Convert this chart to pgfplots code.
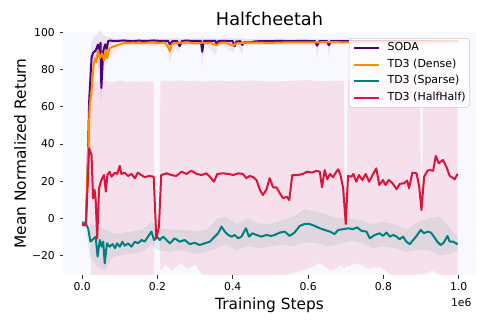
\documentclass[border=0pt]{standalone}
\usepackage{fontspec}
\setmainfont{DejaVu Sans}
\usepackage{pgfplots}
\usepackage{pgfplotstable}
\pgfplotsset{compat=1.18}
\usepgfplotslibrary{fillbetween}

\definecolor{bgc}{RGB}{248,248,255}
\definecolor{soda}{RGB}{75,0,130}
\definecolor{dense}{RGB}{255,140,0}
\definecolor{sparse}{RGB}{0,128,128}
\definecolor{half}{RGB}{220,20,60}

% x in units of 1e6 training steps
\pgfplotstableread{
x y
0 -3
0.01 -3
0.014 20
0.0186 62.6
0.025 86.2
0.029 88.9
0.036 90.2
0.042 93.4
0.045 88.9
0.049 94.4
0.051 70.1
0.056 89.8
0.061 93.5
0.065 90.8
0.069 95.2
0.073 95.5
0.09 95.3
0.11 95.6
0.13 95.2
0.15 95.5
0.17 95.3
0.19 95.6
0.21 95.3
0.228 95.4
0.233 93.5
0.24 95.2
0.252 95.3
0.259 92.5
0.265 95.4
0.28 95.5
0.30 95.3
0.315 95.4
0.319 89.5
0.323 95.3
0.34 95.4
0.354 95.3
0.358 93.2
0.362 95.3
0.38 95.4
0.40 95.2
0.405 92.5
0.41 95.1
0.42 95.2
0.425 93.2
0.43 94.6
0.445 94.5
0.46 95.1
0.48 95.3
0.5 95.2
0.52 95.4
0.54 95.3
0.56 95.2
0.58 95.4
0.60 95.3
0.618 95.3
0.624 92.8
0.63 95.2
0.65 95.3
0.655 93.0
0.66 95.2
0.68 95.3
0.70 95.2
0.75 95.3
0.8 95.2
0.85 95.3
0.9 95.2
0.95 95.3
0.997 95.2
}\sodaline

\pgfplotstableread{
x lo hi
0 -4 -2
0.01 -4 -2
0.015 10 45
0.02 50 85
0.025 78 95
0.03 83 97
0.04 86 99
0.045 78 101
0.05 62 101
0.055 70 99
0.06 86 98
0.07 92 97.5
0.08 94 97
0.1 94.3 96.4
0.228 94.3 96.4
0.233 85 97
0.24 94.3 96.4
0.255 89 97
0.262 94.3 96.4
0.315 94.3 96.4
0.319 80 98
0.323 94.3 96.4
0.355 88 97
0.362 94.3 96.4
0.402 89 97
0.41 94.3 96.4
0.425 88 97
0.43 94 96.4
0.62 94.3 96.4
0.624 86 97
0.63 94.3 96.4
0.652 94.3 96.4
0.655 86 97
0.66 94.3 96.4
0.997 94.3 96.3
}\sodaband

\pgfplotstableread{
x y
0 -3
0.01 -3
0.016 36.8
0.02 60
0.025 69
0.03 81.6
0.034 86
0.038 84
0.042 90.5
0.047 86
0.053 88.7
0.058 85
0.063 90.5
0.066 86
0.073 91.4
0.082 92.3
0.096 93.2
0.109 94.1
0.135 94.4
0.16 94.2
0.18 94.5
0.2 94.3
0.22 94.4
0.227 92.5
0.233 89.9
0.238 93.5
0.25 94.3
0.28 94.5
0.3 94.0
0.32 94.4
0.34 94.2
0.358 93.0
0.365 94.3
0.38 94.5
0.4 92.8
0.41 94.0
0.43 94.3
0.45 94.5
0.5 94.3
0.55 94.6
0.6 94.5
0.65 94.7
0.7 94.6
0.75 94.8
0.8 94.7
0.85 94.9
0.9 94.8
0.95 95.0
0.997 95.1
}\denseline

\pgfplotstableread{
x lo hi
0 -4 -2
0.01 -4 -2
0.02 25 55
0.03 70 90
0.04 78 93
0.05 78 94
0.06 80 94
0.07 85 95
0.08 88 95
0.1 91 96
0.13 93 96
0.225 92 96
0.233 83 96
0.24 88 96
0.25 93 96
0.997 93.5 96
}\denseband

\pgfplotstableread{
x y
0 -2.1
0.01 -3
0.016 -5.3
0.022 -12.5
0.029 -11.2
0.036 -9.8
0.041 -20.5
0.047 -11.6
0.052 -15.2
0.056 -12.5
0.06 -24.1
0.066 -13.4
0.073 -15.2
0.081 -13.8
0.087 -16.0
0.093 -13.4
0.1 -15.2
0.107 -12.5
0.113 -14.7
0.122 -13.4
0.131 -15.2
0.14 -12.5
0.148 -13.4
0.158 -11.6
0.166 -12.5
0.175 -9.8
0.184 -7.1
0.191 -11.6
0.199 -9.8
0.206 -11.6
0.215 -9.8
0.224 -11.6
0.233 -13.4
0.246 -10.7
0.259 -12.5
0.272 -11.6
0.286 -13.8
0.299 -13.1
0.312 -14.3
0.325 -13.4
0.339 -12.5
0.352 -9.8
0.361 -8
0.37 -4.4
0.379 -7.1
0.388 -8.9
0.397 -9.8
0.405 -8.9
0.414 -10.7
0.423 -9.8
0.435 -5.3
0.443 -9.8
0.452 -8
0.463 -8.9
0.476 -9.8
0.489 -8.9
0.502 -9.4
0.511 -8.9
0.525 -7.6
0.538 -7.1
0.551 -9.4
0.564 -7.6
0.578 -4.0
0.591 -3.0
0.604 -3.0
0.617 -4.0
0.631 -5.3
0.644 -6.2
0.658 -7.1
0.67 -8.4
0.68 -6.2
0.693 -5.8
0.706 -5.3
0.719 -5.8
0.73 -4.8
0.742 -6.7
0.755 -7.1
0.764 -10.7
0.777 -8.9
0.79 -8
0.799 -9.4
0.808 -7.6
0.817 -9.8
0.826 -8.9
0.835 -9.8
0.843 -11.2
0.852 -9.8
0.861 -12.5
0.87 -13.8
0.879 -11.6
0.888 -9.4
0.899 -6.2
0.908 -8
0.917 -7.1
0.926 -7.6
0.934 -9.8
0.943 -12.5
0.952 -14.3
0.96 -13.1
0.97 -9.4
0.976 -12.5
0.985 -12.5
0.997 -13.9
}\sparseline

\pgfplotstableread{
x lo hi
0 -4 -1
0.01 -5 -1
0.02 -20 -3
0.04 -26 -4
0.06 -28 -6
0.08 -21 -8
0.1 -20 -8
0.13 -19 -7
0.16 -18 -6
0.185 -14 -2
0.2 -17 -5
0.23 -18 -6
0.26 -17 -6
0.3 -19 -7
0.33 -18 -6
0.36 -16 0
0.38 -14 1
0.41 -17 -3
0.44 -15 0
0.47 -16 -3
0.5 -15 -3
0.53 -14 -1
0.56 -15 1
0.59 -13 5
0.62 -13 4
0.65 -15 2
0.68 -14 0
0.71 -12 0
0.74 -13 -1
0.77 -16 -3
0.8 -15 -2
0.83 -16 -3
0.86 -18 -6
0.89 -17 -2
0.92 -17 0
0.95 -20 1
0.98 -19 -6
0.997 -17 -10
}\sparseband

\pgfplotstableread{
x y
0 -3.5
0.01 -3.5
0.0186 37.7
0.025 34.1
0.029 10.8
0.033 15.3
0.036 9.9
0.04 -10.7
0.045 16.2
0.051 20.6
0.058 23.3
0.063 14.4
0.067 23.3
0.073 25.1
0.078 22.4
0.087 24.6
0.093 23.9
0.1 28.2
0.104 23.9
0.113 24.5
0.122 22.8
0.131 23.9
0.14 21.6
0.148 24.6
0.157 23.3
0.166 22.2
0.179 22.8
0.19 22.4
0.197 -10.7
0.204 -4.4
0.21 23.3
0.224 24.2
0.237 23.3
0.25 22.8
0.264 25.1
0.277 23.9
0.29 25.6
0.304 23.9
0.317 23.3
0.33 24.2
0.339 22.4
0.35 19.7
0.359 23.9
0.374 24.2
0.388 23.9
0.401 23.3
0.414 24.2
0.427 23.9
0.436 21.6
0.445 22.8
0.454 22.2
0.463 20.6
0.472 15.3
0.48 12.6
0.489 15.3
0.498 21.6
0.507 16.7
0.516 16.7
0.525 13.5
0.534 10.8
0.543 11.7
0.55 9.9
0.558 23.3
0.573 23.3
0.586 23.9
0.597 25.1
0.611 24.6
0.622 25.6
0.631 25.1
0.637 16.7
0.644 26
0.651 21
0.658 23.9
0.666 22.1
0.675 25.1
0.68 26.4
0.686 23.3
0.693 16.2
0.7 -3
0.706 22.8
0.715 22.4
0.72 23.9
0.728 19.7
0.735 23.3
0.744 20.6
0.753 23.9
0.762 19.7
0.771 23.3
0.781 26.9
0.789 18
0.799 20.6
0.805 18
0.814 20.6
0.823 19.2
0.835 15.7
0.843 18.5
0.855 18.9
0.863 20.3
0.868 16.2
0.877 24.6
0.888 24.2
0.895 17
0.901 4.5
0.908 22.4
0.917 25.6
0.922 26
0.932 25.6
0.939 33.6
0.947 29.6
0.958 31.4
0.967 27.8
0.976 22.8
0.982 22.1
0.989 21
0.997 23.9
}\halfline

\pgfplotstableread{
x lo hi
0 -4.5 -2.5
0.01 -4.5 -2.5
0.018 15 55
0.024 -32 73
0.04 -34 73.5
0.06 -34 73.8
0.08 -34 73.2
0.1 -34 74
0.12 -34 73.4
0.14 -34 73.8
0.16 -34 73.3
0.18 -34 73.7
0.19 -34 73.5
0.192 -14 -2
0.205 -8 2
0.208 -28 73.6
0.22 -25 74
0.24 -28 73.5
0.26 -24 74.2
0.28 -27 73.6
0.30 -25 74
0.32 -30 73.4
0.35 -31 74
0.40 -31 73.6
0.45 -32 74.1
0.50 -31 73.5
0.55 -30 73.8
0.60 -27 74.3
0.63 -24 73.6
0.66 -28 74
0.69 -25 73.8
0.695 -27 74
0.697 -27 15
0.703 -25 8
0.705 -26 74
0.73 -24 73.6
0.76 -27 74
0.79 -26 73.5
0.82 -30 73.8
0.86 -31 73.4
0.897 -30 73.6
0.899 -30 20
0.903 -30 12
0.905 -30 73.5
0.93 -28 73.9
0.96 -31 73.4
0.997 -32 73.6
}\halfband

\begin{document}
\begin{tikzpicture}
\begin{axis}[
    name=ax,
    at={(0,0)}, anchor=south west,
    scale only axis,
    width=412.4bp, height=243.3bp,
    xmin=-0.05, xmax=1.045,
    ymin=-30.4, ymax=100.3,
    axis background/.style={fill=bgc},
    axis line style={draw=none},
    tick pos=left,
    tick align=outside,
    major tick length=3.5bp,
    tick style={black!80, line width=0.7bp},
    xtick={0,0.2,0.4,0.6,0.8,1},
    xticklabels={0.0,0.2,0.4,0.6,0.8,1.0},
    ytick={-20,0,20,40,60,80,100},
    yticklabels={−20,0,20,40,60,80,100},
    ticklabel style={font=\fontsize{10.8bp}{13bp}\selectfont},
    xticklabel style={anchor=base, inner sep=0bp, yshift=-12.2bp},
    yticklabel style={anchor=east, inner sep=0bp, xshift=-4.8bp},
    every axis title/.style={at={(0.5,1)}, anchor=base, yshift=6.6bp,
        font=\fontsize{17.7bp}{20bp}\selectfont},
    title={Halfcheetah},
    every axis x label/.style={at={(0.5,0)}, anchor=base, yshift=-34.3bp,
        font=\fontsize{15.4bp}{18bp}\selectfont},
    xlabel={Training Steps},
    every axis y label/.style={at={(0,0.5)}, xshift=-37.5bp, rotate=90, anchor=base,
        font=\fontsize{15.4bp}{18bp}\selectfont},
    ylabel={Mean Normalized Return},
    legend cell align=left,
    legend image code/.code={
        \path (0bp,0bp) -- (24.4bp,0bp);
        \draw[#1] (8.4bp,0bp) -- (24.4bp,0bp);
    },
    legend style={at={(1,1)}, anchor=north east, xshift=-5.7bp, yshift=-6.3bp,
        draw=black!20, line width=0.6bp, fill=white, fill opacity=0.8, text opacity=1,
        rounded corners=2.5bp, inner xsep=4bp, inner ysep=1.5bp, row sep=0bp,
        font=\fontsize{11bp}{13bp}\selectfont,
        nodes={inner xsep=0bp, inner ysep=2.9bp, text height=8.2bp, text depth=2.5bp},
        /tikz/every odd column/.append style={column sep=8bp}},
]

% shaded bands
\addplot[draw=none, name path=sh, forget plot] table[x=x, y=hi] {\sodaband};
\addplot[draw=none, name path=sl, forget plot] table[x=x, y=lo] {\sodaband};
\addplot[fill=soda, fill opacity=0.08, draw=none, forget plot] fill between[of=sh and sl];

\addplot[draw=none, name path=dh, forget plot] table[x=x, y=hi] {\denseband};
\addplot[draw=none, name path=dl, forget plot] table[x=x, y=lo] {\denseband};
\addplot[fill=dense, fill opacity=0.1, draw=none, forget plot] fill between[of=dh and dl];

\addplot[draw=none, name path=ph, forget plot] table[x=x, y=hi] {\sparseband};
\addplot[draw=none, name path=pl, forget plot] table[x=x, y=lo] {\sparseband};
\addplot[fill=sparse, fill opacity=0.09, draw=none, forget plot] fill between[of=ph and pl];

\addplot[draw=none, name path=hh, forget plot] table[x=x, y=hi] {\halfband};
\addplot[draw=none, name path=hl, forget plot] table[x=x, y=lo] {\halfband};
\addplot[fill=half, fill opacity=0.1, draw=none, forget plot] fill between[of=hh and hl];

% mean curves
\addplot[soda, line width=2bp, line join=round] table[x=x, y=y] {\sodaline};
\addlegendentry{SODA}
\addplot[dense, line width=2bp, line join=round] table[x=x, y=y] {\denseline};
\addlegendentry{TD3 (Dense)}
\addplot[sparse, line width=2bp, line join=round] table[x=x, y=y] {\sparseline};
\addlegendentry{TD3 (Sparse)}
\addplot[half, line width=2bp, line join=round] table[x=x, y=y] {\halfline};
\addlegendentry{TD3 (HalfHalf)}

\end{axis}
\node[anchor=base east, font=\fontsize{10.8bp}{13bp}\selectfont]
    at ([xshift=-0.7bp, yshift=-31bp]ax.south east) {1e6};
\pgfresetboundingbox
\path[use as bounding box] (-63.3bp,-51bp) rectangle (424.7bp,275bp);
\end{tikzpicture}
\end{document}
